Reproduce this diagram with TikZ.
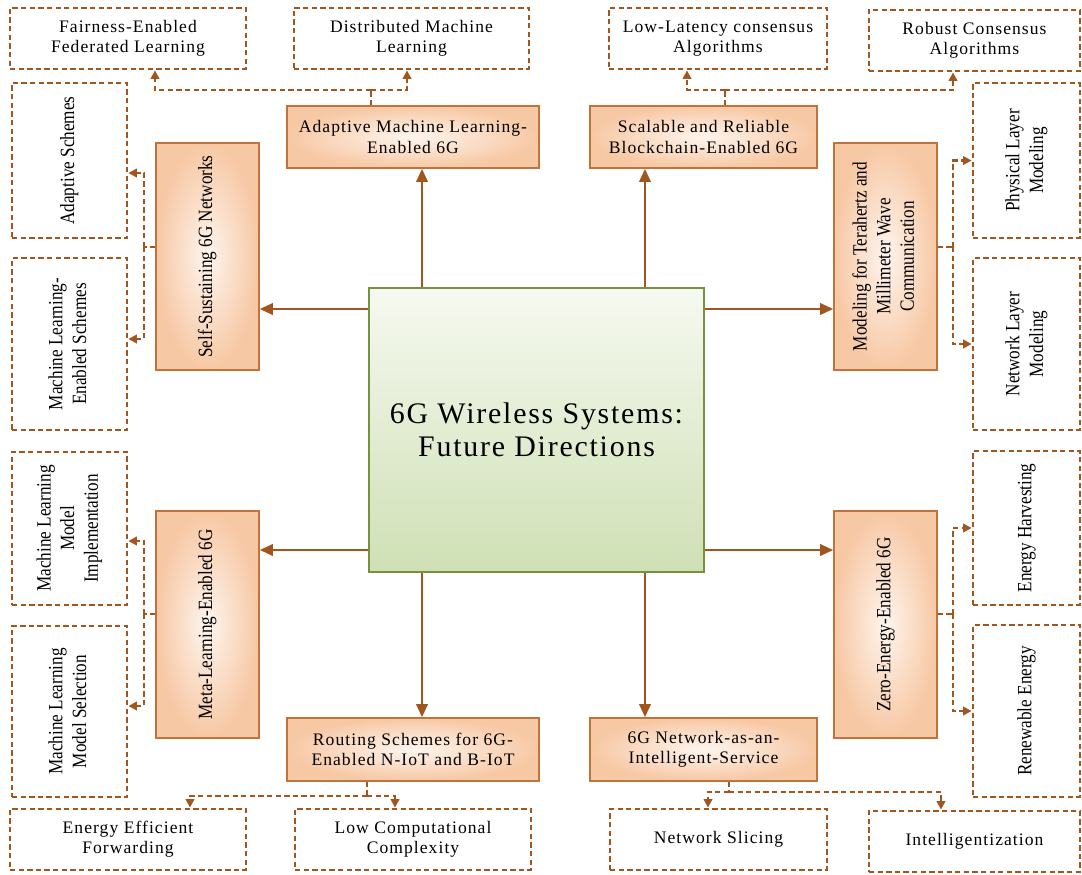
\documentclass[tikz,border=0pt]{standalone}
\usepackage{fontspec}
\setmainfont{Liberation Serif}
\newfontfamily\spacedfont[LetterSpace=6]{Liberation Serif}
\newfontfamily\narrowfont[FakeStretch=0.85]{Liberation Serif}
\usepackage{graphicx}
\usepackage{xcolor}
\usepackage{tikz}
\usetikzlibrary{shapes,arrows.meta}
\usetikzlibrary{calc}

\definecolor{brownline}{HTML}{A0561E}
\definecolor{boxedge}{HTML}{C0743C}
\definecolor{orangeout}{HTML}{F7C8A4}
\definecolor{orangein}{HTML}{FEF5EE}
\definecolor{greentop}{HTML}{F6F9F0}
\definecolor{greenbot}{HTML}{CFE0B5}
\definecolor{greenedge}{HTML}{76923C}

% upright text turned to read bottom-up
\newcommand{\vlabel}[1]{\rotatebox{90}{\narrowfont\fontsize{11.5}{13.5}\selectfont\begin{tabular}{@{}c@{}}#1\end{tabular}}}

\tikzstyle{hub} = [rectangle, draw=greenedge, line width=1.3pt, top color=greentop,
    bottom color=greenbot, inner sep=0pt, align=center,
    font=\spacedfont\fontsize{17}{19}\selectfont]
\tikzstyle{topic} = [rectangle, draw=boxedge, line width=1pt, inner color=orangein,
    outer color=orangeout, inner sep=0pt, align=center,
    font=\spacedfont\fontsize{10}{11.4}\selectfont]
\tikzstyle{leaf} = [rectangle, draw=brownline, line width=1.6pt, dash pattern=on 3pt off 1.9pt,
    fill=white, inner sep=0pt, align=center, font=\spacedfont\fontsize{10}{11.4}\selectfont]
\tikzstyle{line} = [draw=brownline, line width=1pt, -{Triangle[length=7.4pt,width=6.6pt]}]
\tikzstyle{dline} = [draw=brownline, line width=1.6pt, dash pattern=on 3pt off 1.9pt]
\tikzstyle{dtip} = [dline, -{Triangle[length=4.8pt,width=4.8pt]}]

\begin{document}
\begin{tikzpicture}[x=0.02cm,y=-0.02cm]
    \useasboundingbox (0,0) rectangle (1082,875);
    % Place nodes
    \node [hub, minimum width=6.7cm, minimum height=5.68cm] (hub) at (536.5,430)
        {6G Wireless Systems:\\Future Directions};

    \node [topic, minimum width=5.04cm, minimum height=1.24cm] (adaptive) at (413,137)
        {Adaptive Machine Learning-\\Enabled 6G};
    \node [topic, minimum width=4.54cm, minimum height=1.24cm] (scalable) at (703.5,137)
        {Scalable and Reliable\\Blockchain-Enabled 6G};
    \node [topic, minimum width=5.04cm, minimum height=1.26cm] (routing) at (413,749.5)
        {Routing Schemes for 6G-\\Enabled N-IoT and B-IoT};
    \node [topic, minimum width=4.54cm, minimum height=1.26cm] (nais) at (703.5,749.5)
        {6G Network-as-an-\\Intelligent-Service};
    \node [topic, minimum width=2.06cm, minimum height=4.54cm] (selfsus) at (207.5,256.5)
        {\vlabel{Self-Sustaining 6G Networks}};
    \node [topic, minimum width=2.06cm, minimum height=4.54cm] (modeling) at (885.5,256.5)
        {\vlabel{Modeling for Terahertz and\\Millimeter Wave\\Communication}};
    \node [topic, minimum width=2.06cm, minimum height=4.54cm] (meta) at (207.5,624.5)
        {\vlabel{Meta-Learning-Enabled 6G}};
    \node [topic, minimum width=2.06cm, minimum height=4.54cm] (zero) at (885.5,624.5)
        {\vlabel{Zero-Energy-Enabled 6G}};

    % top and bottom rows
    \node [leaf, minimum width=4.72cm, minimum height=1.22cm] (fairness) at (128,38.5)
        {Fairness-Enabled\\Federated Learning};
    \node [leaf, minimum width=4.70cm, minimum height=1.22cm] (distributed) at (411.5,38.5)
        {Distributed Machine\\Learning};
    \node [leaf, minimum width=4.36cm, minimum height=1.22cm] (lowlat) at (718,38.5)
        {Low-Latency consensus\\Algorithms};
    \node [leaf, minimum width=4.22cm, minimum height=1.22cm] (robust) at (974.5,40.5)
        {Robust Consensus\\Algorithms};
    \node [leaf, minimum width=4.72cm, minimum height=1.22cm] (eef) at (128,839.5)
        {Energy Efficient\\Forwarding};
    \node [leaf, minimum width=4.72cm, minimum height=1.22cm] (lowcomp) at (413,839.5)
        {Low Computational\\Complexity};
    \node [leaf, minimum width=4.34cm, minimum height=1.22cm] (slicing) at (718.5,839.5)
        {Network Slicing};
    \node [leaf, minimum width=4.22cm, minimum height=1.22cm] (intel) at (974.5,841.5)
        {Intelligentization};

    % side columns
    \node [leaf, minimum width=2.30cm, minimum height=3.10cm] (adsch) at (69.5,160.5)
        {\vlabel{Adaptive Schemes}};
    \node [leaf, minimum width=2.30cm, minimum height=3.44cm] (mlen) at (69.5,344)
        {\vlabel{Machine Learning-\\Enabled Schemes}};
    \node [leaf, minimum width=2.30cm, minimum height=3.06cm] (mlimpl) at (69.5,528.5)
        {\vlabel{Machine Learning\\Model\\Implementation}};
    \node [leaf, minimum width=2.30cm, minimum height=3.42cm] (mlsel) at (69.5,711.5)
        {\vlabel{Machine Learning\\Model Selection}};
    \node [leaf, minimum width=2.14cm, minimum height=3.10cm] (physical) at (1026.5,160.5)
        {\vlabel{Physical Layer\\Modeling}};
    \node [leaf, minimum width=2.14cm, minimum height=3.44cm] (netlayer) at (1026.5,344)
        {\vlabel{Network Layer\\Modeling}};
    \node [leaf, minimum width=2.14cm, minimum height=3.08cm] (energyh) at (1026.5,528)
        {\vlabel{Energy Harvesting}};
    \node [leaf, minimum width=2.14cm, minimum height=3.44cm] (renew) at (1026.5,711)
        {\vlabel{Renewable Energy}};

    % Draw edges
    \coordinate (xl) at (422,0);
    \coordinate (xr) at (645,0);
    \coordinate (yt) at (0,309);
    \coordinate (yb) at (0,550);
    \path [line] (hub.north -| xl) -- (adaptive.south -| xl);
    \path [line] (hub.north -| xr) -- (scalable.south -| xr);
    \path [line] (hub.west |- yt) -- (selfsus.east |- yt);
    \path [line] (hub.east |- yt) -- (modeling.west |- yt);
    \path [line] (hub.west |- yb) -- (meta.east |- yb);
    \path [line] (hub.east |- yb) -- (zero.west |- yb);
    \path [line] (hub.south -| xl) -- (routing.north -| xl);
    \path [line] (hub.south -| xr) -- (nais.north -| xr);

    % dashed branches
    \coordinate (ja) at (371,90);
    \coordinate (jb) at (725,90);
    \coordinate (jc) at (144,247);
    \coordinate (jd) at (953,247);
    \coordinate (je) at (144,614);
    \coordinate (jf) at (953,614);
    \coordinate (jg) at (367,796);
    \coordinate (jh) at (729,792);

    \draw [dline] (adaptive.north -| ja) -- (ja);
    \draw [dtip] (ja) -| ($(fairness.south)+(27,0)$);
    \draw [dtip] (ja) -| ($(distributed.south)+(-4.5,0)$);

    \draw [dline] (scalable.north -| jb) -- (jb);
    \draw [dtip] (jb) -| ($(lowlat.south)+(-31,0)$);
    \draw [dtip] (jb) -| ($(robust.south)+(-21.5,0)$);

    \draw [dline] (selfsus.west |- jc) -- (jc);
    \draw [dtip] (jc) |- ($(adsch.east)+(0,12.5)$);
    \draw [dtip] (jc) |- ($(mlen.east)+(0,-5)$);

    \draw [dline] (modeling.east |- jd) -- (jd);
    \draw [dtip] (jd) |- (physical.west);
    \draw [dtip] (jd) |- (netlayer.west);

    \draw [dline] (meta.west |- je) -- (je);
    \draw [dtip] (je) |- ($(mlimpl.east)+(0,12.5)$);
    \draw [dtip] (je) |- ($(mlsel.east)+(0,-5.5)$);

    \draw [dline] (zero.east |- jf) -- (jf);
    \draw [dtip] (jf) |- (energyh.west);
    \draw [dtip] (jf) |- (renew.west);

    \draw [dline] (routing.south -| jg) -- (jg);
    \draw [dtip] (jg) -| ($(eef.north)+(62,0)$);
    \draw [dtip] (jg) -| ($(lowcomp.north)+(-18,0)$);

    \draw [dline] (nais.south -| jh) -- (jh);
    \draw [dtip] (jh) -| ($(slicing.north)+(-10.5,0)$);
    \draw [dtip] (jh) -| ($(intel.north)+(-33.5,0)$);
\end{tikzpicture}
\end{document}
